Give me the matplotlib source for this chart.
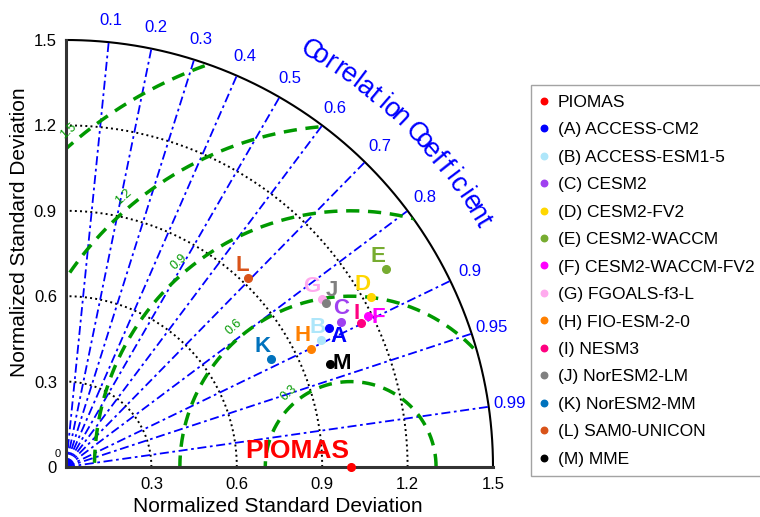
import numpy as np
import matplotlib.pyplot as plt
from matplotlib.patches import Wedge

plt.rcParams['font.family'] = ['Liberation Sans', 'DejaVu Sans']

# normalized std / correlation of each model vs PIOMAS
models = ['PIOMAS', '(A) ACCESS-CM2', '(B) ACCESS-ESM1-5', '(C) CESM2', '(D) CESM2-FV2',
          '(E) CESM2-WACCM', '(F) CESM2-WACCM-FV2', '(G) FGOALS-f3-L', '(H) FIO-ESM-2-0',
          '(I) NESM3', '(J) NorESM2-LM', '(K) NorESM2-MM', '(L) SAM0-UNICON', '(M) MME']
letters = ['PIOMAS', 'A', 'B', 'C', 'D', 'E', 'F', 'G', 'H', 'I', 'J', 'K', 'L', 'M']
std_norm = [1.0, 1.045, 1.002, 1.092, 1.227, 1.323, 1.186, 1.075, 0.956, 1.153, 1.081, 0.812, 0.922, 0.995]
corr = [1.0, 0.885, 0.895, 0.885, 0.874, 0.850, 0.895, 0.835, 0.901, 0.899, 0.846, 0.885, 0.694, 0.931]
colors = ['#ff0000', '#0000ff', '#aee6fa', '#a040f0', '#ffd700', '#77ac30', '#ff00ff',
          '#ffaaee', '#ff8000', '#ff0080', '#808080', '#0072bd', '#d95319', '#000000']

corr_ticks = [0.1, 0.2, 0.3, 0.4, 0.5, 0.6, 0.7, 0.8, 0.9, 0.95, 0.99]
std_arcs = [0.3, 0.6, 0.9, 1.2]
rms_arcs = [0.3, 0.6, 0.9, 1.2, 1.5]
std_ticks = [0, 0.3, 0.6, 0.9, 1.2, 1.5]

# label offsets (points) for the letters next to the markers
offsets = [(-1, 3), (7, -6), (-3, 9), (0, 10), (-6, 9), (-6, 9), (7, -1), (-7, 9),
           (-6, 10), (-3, 7), (4, 9), (-6, 9), (-4, 9), (9, 0)]

fig = plt.figure(figsize=(7.6, 5.17), dpi=100)
ax = fig.add_axes([66/760, 50/517, 427/760, 427/517])
ax.set_xlim(0, 1.5)
ax.set_ylim(0, 1.5)
for s in ['top', 'right']:
    ax.spines[s].set_visible(False)
for s in ['left', 'bottom']:
    ax.spines[s].set_linewidth(2.2)
    ax.spines[s].set_color('0.2')

th = np.linspace(0, np.pi/2, 300)
# std dev arcs
for r in std_arcs:
    ax.plot(r*np.cos(th), r*np.sin(th), ':', color='k', lw=1.4)
ax.plot(1.5*np.cos(th), 1.5*np.sin(th), '-', color='k', lw=1.5, clip_on=False)

# correlation rays
for c in corr_ticks:
    a = np.arccos(c)
    ax.plot([0, 1.5*np.cos(a)], [0, 1.5*np.sin(a)], color='b', lw=1.3,
            ls=(0, (5, 2, 1.5, 2)))
    ax.text(1.575*np.cos(a), 1.575*np.sin(a), '%g' % c, color='b', fontsize=12,
            ha='center', va='center', clip_on=False)

# centered RMS difference circles around the reference
clip = Wedge((0, 0), 1.5, 0, 90, transform=ax.transData)
t = np.linspace(0, np.pi, 500)
for r in rms_arcs:
    line, = ax.plot(1 + r*np.cos(t), r*np.sin(t), color='#009900', lw=2.5,
                    ls=(0, (3.8, 2.5)))
    line.set_clip_path(clip)
    a = np.deg2rad(130)
    ax.text(1 + (r + 0.04)*np.cos(a), (r + 0.04)*np.sin(a), '%g' % r, color='#009900',
            fontsize=9, rotation=42, ha='center', va='center')

# title along the arc
title = 'Correlation Coefficient'
angs = np.linspace(59.6, 30.5, len(title))
for ch, a in zip(title, angs):
    ar = np.deg2rad(a)
    ax.text(1.672*np.cos(ar), 1.672*np.sin(ar), ch, color='b', fontsize=19.5,
            rotation=a - 90, rotation_mode='anchor', ha='center', va='baseline',
            clip_on=False)

# models
for i in range(len(models)):
    x = std_norm[i]*corr[i]
    y = std_norm[i]*np.sin(np.arccos(corr[i]))
    ax.plot(x, y, 'o', ms=5.5, color=colors[i], label=models[i], clip_on=False, zorder=5)
    if i == 0:
        ax.annotate(letters[i], (x, y), xytext=offsets[i], textcoords='offset points',
                    ha='right', va='bottom', color=colors[i], fontsize=19, fontweight='bold')
    else:
        ax.annotate(letters[i], (x, y), xytext=offsets[i], textcoords='offset points',
                    ha='center', va='center', color=colors[i], fontsize=16, fontweight='bold')

ax.set_xticks(std_ticks[1:])
ax.set_xticklabels(['%g' % v for v in std_ticks[1:]])
ax.set_yticks(std_ticks)
ax.set_yticklabels(['%g' % v for v in std_ticks])
ax.tick_params(length=0, labelsize=12)
ax.tick_params(axis='x', pad=7)
ax.tick_params(axis='y', pad=6.5)
ax.text(-0.03, 0.045, '0', fontsize=8, ha='center', va='center')

fig.text(278/760, 1 - 506/517, 'Normalized Standard Deviation', fontsize=15,
         ha='center', va='center')
fig.text(20/760, 1 - 232/517, 'Normalized Standard Deviation', fontsize=15,
         ha='center', va='center', rotation=90)

leg = ax.legend(loc='upper left', bbox_to_anchor=(531/760, 1 - 85/517),
                bbox_transform=fig.transFigure, fontsize=12.5, frameon=True,
                fancybox=False, edgecolor='0.55', borderaxespad=0, borderpad=0.55,
                handlelength=0.45, handletextpad=0.56, labelspacing=0.71,
                markerscale=0.85)
leg.get_frame().set_linewidth(1.0)

plt.savefig('out.png', dpi=100)
